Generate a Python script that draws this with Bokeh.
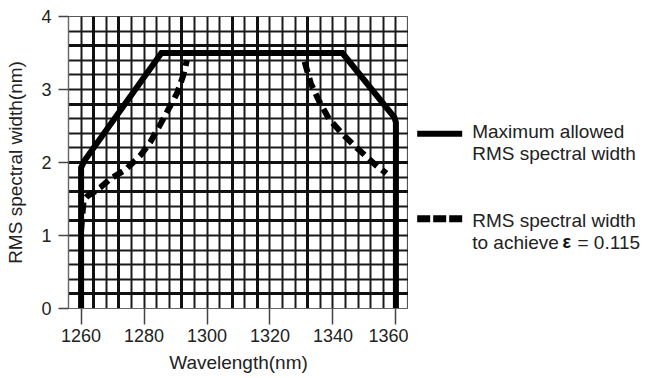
from bokeh.plotting import figure
from bokeh.models import Range1d, FixedTicker, Grid
from bokeh.layouts import row
from bokeh.embed import file_html
from bokeh.resources import INLINE
from bokeh.core.properties import value

# ---------------- data ----------------
max_wl = [1260, 1260, 1261, 1285.5, 1343, 1359.5, 1360, 1360]
max_rms = [0, 1.93, 2.02, 3.5, 3.5, 2.62, 2.55, 0]

eps_left_wl = [1260, 1260.8, 1262, 1264, 1266.2, 1269.4, 1274.1, 1278.9,
               1282, 1285.5, 1288, 1290.5, 1292.5, 1293.6]
eps_left_rms = [1.07, 1.48, 1.54, 1.59, 1.66, 1.78, 1.9, 2.1,
                2.28, 2.55, 2.75, 2.95, 3.2, 3.4]
eps_right_wl = [1331, 1333, 1335.5, 1338.7, 1342.4, 1346.6, 1350.9, 1354, 1357]
eps_right_rms = [3.38, 3.08, 2.85, 2.6, 2.42, 2.24, 2.07, 1.95, 1.85]

x_ticks = [1260, 1280, 1300, 1320, 1340, 1360]
y_ticks = [0, 1, 2, 3, 4]

legend_max_lines = ["Maximum allowed", "RMS spectral width"]
legend_eps_lines = ["RMS spectral width", "to achieve"]
legend_eps_symbol = "ε"
legend_eps_value = "= 0.115"

x_label = "Wavelength(nm)"
y_label = "RMS spectral width(nm)"

# grid (graph-paper) positions
grid_x = list(range(1256, 1365, 4))
grid_y = [round(0.2 * i, 1) for i in range(21)]
grid_x_thick = [1264, 1272, 1292, 1308, 1316, 1332]
grid_y_thick = [0.2, 1.2, 1.6, 2.0, 2.8, 3.6]

FONT = "Liberation Sans"
INK = "#111111"
W1, W2, H = 408, 239, 378
B_TOP, B_BOTTOM, B_LEFT = 16, 70, 68

# ---------------- main plot ----------------
p = figure(width=W1, height=H,
           x_range=Range1d(1256, 1364), y_range=Range1d(0, 4),
           output_backend="svg", toolbar_location=None,
           min_border_left=B_LEFT, min_border_right=0,
           min_border_top=B_TOP, min_border_bottom=B_BOTTOM)
p.outline_line_color = "#555555"
p.outline_line_width = 1.2
p.background_fill_color = "white"
p.border_fill_color = "white"

p.xgrid[0].ticker = FixedTicker(ticks=grid_x)
p.ygrid[0].ticker = FixedTicker(ticks=grid_y)
for g in (p.xgrid[0], p.ygrid[0]):
    g.grid_line_color = "#1a1a1a"
    g.grid_line_width = 2
    g.grid_line_alpha = 1.0

p.add_layout(Grid(dimension=0, ticker=FixedTicker(ticks=grid_x_thick),
                  grid_line_color=INK, grid_line_width=3))
p.add_layout(Grid(dimension=1, ticker=FixedTicker(ticks=grid_y_thick),
                  grid_line_color=INK, grid_line_width=3))

p.xaxis.ticker = FixedTicker(ticks=x_ticks)
p.yaxis.ticker = FixedTicker(ticks=y_ticks)
p.xaxis.axis_label = x_label
p.yaxis.axis_label = y_label
for ax in (p.xaxis[0], p.yaxis[0]):
    ax.axis_line_color = "#666666"
    ax.axis_line_width = 1.2
    ax.major_tick_line_color = "#444444"
    ax.major_tick_line_width = 1.5
    ax.major_tick_in = 0
    ax.minor_tick_in = 0
    ax.minor_tick_out = 0
    ax.major_label_text_font = FONT
    ax.major_label_text_font_size = "18px"
    ax.major_label_text_color = "#222222"
    ax.axis_label_text_font = FONT
    ax.axis_label_text_font_size = "19px"
    ax.axis_label_text_font_style = "normal"
    ax.axis_label_text_color = "#222222"
p.xaxis.major_tick_out = 16
p.xaxis.major_label_standoff = 4
p.xaxis.axis_label_standoff = 7
p.yaxis.major_tick_out = 10
p.yaxis.major_label_standoff = 7
p.yaxis.axis_label_standoff = 12

p.line(max_wl, max_rms, line_color="black", line_width=6,
       line_join="miter", line_cap="butt")
p.line(eps_left_wl, eps_left_rms, line_color="black", line_width=6,
       line_dash="11 6", line_cap="butt")
p.line(eps_right_wl, eps_right_rms, line_color="black", line_width=6,
       line_dash="11 6", line_cap="butt")

# ---------------- legend panel (pixel coordinates, y downward) ----------------
lg = figure(width=W2, height=H,
            x_range=Range1d(W1, W1 + W2), y_range=Range1d(H - B_BOTTOM, B_TOP),
            x_axis_type=None, y_axis_type=None,
            output_backend="svg", toolbar_location=None,
            min_border_left=0, min_border_right=0,
            min_border_top=B_TOP, min_border_bottom=B_BOTTOM)
lg.outline_line_color = None
lg.grid.visible = False

lg.line([416.7, 461.7], [133.3, 133.3], line_color="black", line_width=6, line_cap="butt")
lg.line([416.7, 461.7], [218.3, 218.3], line_color="black", line_width=7,
        line_cap="butt", line_dash="13 3")

lg.text(x=[471.7, 471.7, 471.7, 471.7], y=[130.7, 153.3, 220.0, 241.7],
        text=legend_max_lines + legend_eps_lines,
        text_font=value(FONT), text_font_size="19px", text_color="#222222",
        text_align="left", text_baseline="alphabetic")
lg.text(x=[562.0], y=[241.7], text=[legend_eps_symbol],
        text_font=value(FONT), text_font_size="18px", text_font_style="bold",
        text_color="#111111", text_align="left", text_baseline="alphabetic")
lg.text(x=[577.0], y=[241.7], text=[legend_eps_value],
        text_font=value(FONT), text_font_size="19px", text_color="#222222",
        text_align="left", text_baseline="alphabetic")

layout = row(p, lg)
open("out.html", "w").write(file_html(layout, INLINE))
